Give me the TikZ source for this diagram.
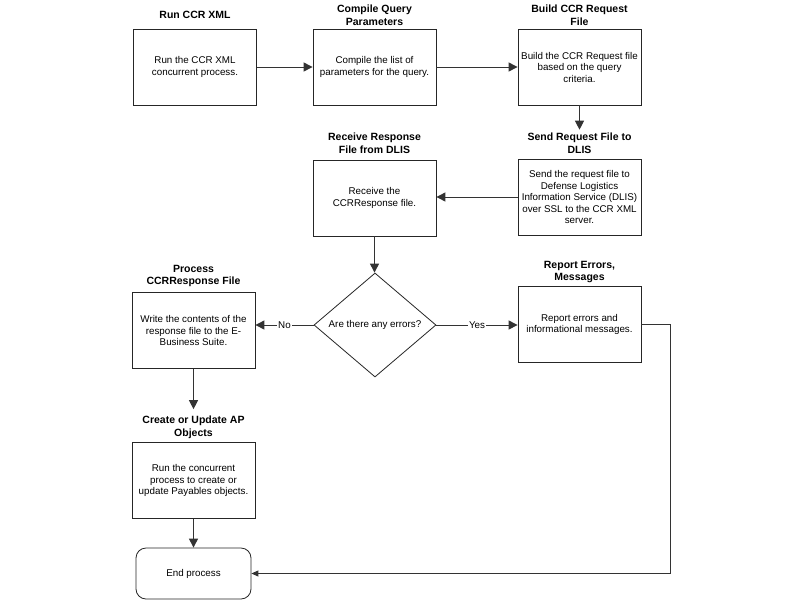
\documentclass[tikz,border=0pt]{standalone}
\usepackage{fontspec}
\setmainfont{Liberation Sans}
\usetikzlibrary{arrows.meta,shapes.geometric}
\newcommand{\myBody}{\fontsize{9.8}{11.5}\selectfont}
\newcommand{\myTitle}{\fontsize{10.5}{12.5}\selectfont\bfseries}
\begin{document}
\begin{tikzpicture}[x=1pt,y=-1pt,
  box/.style={draw=black!85,line width=0.8pt,rectangle,inner sep=0pt,align=center,font=\myBody,minimum width=123pt,minimum height=76pt},
  ttl/.style={inner sep=2pt,align=center,font=\myTitle},
  conn/.style={draw=black!80,line width=1pt,-{Triangle[length=9pt,width=9pt]}},
  lbl/.style={fill=white,inner sep=1pt,font=\myBody}]
\fill[white] (0,0) rectangle (800,600);
\useasboundingbox (0,0) rectangle (800,600);

% boxes
\node[box] (B1) at (195,67) {Run the CCR XML\\concurrent process.};
\node[box] (B2) at (374.5,67) {Compile the list of\\parameters for the query.};
\node[box] (B3) at (579.5,67) {Build the CCR Request file\\based on the query\\criteria.};
\node[box] (B4) at (579.5,197) {Send the request file to\\Defense Logistics\\Information Service (DLIS)\\over SSL to the CCR XML\\server.};
\node[box] (B5) at (374.5,198) {Receive the\\CCRResponse file.};
\node[draw=black!85,line width=0.8pt,diamond,inner sep=0pt,shape aspect=1.17,minimum width=122pt,minimum height=104pt,font=\myBody] (D) at (375,325) {Are there any errors?};
\node[box] (B6) at (193.5,330.5) {Write the contents of the\\response file to the E-\\Business Suite.};
\node[box] (B7) at (579.5,324.5) {Report errors and\\informational messages.};
\node[box] (B8) at (193.5,480.5) {Run the concurrent\\process to create or\\update Payables objects.};
\node[box,rounded corners=10pt,minimum width=115pt,minimum height=51pt] (E) at (193.5,573.5) {End process};

% titles
\node[ttl] (t1) at (195,15) {Run CCR XML};
\node[ttl] (t2) at (374.5,15) {Compile Query\\Parameters};
\node[ttl] (t3) at (579.5,15) {Build CCR Request\\File};
\node[ttl] (t4) at (579.5,143) {Send Request File to\\DLIS};
\node[ttl] (t5) at (374.5,143) {Receive Response\\File from DLIS};
\node[ttl] (t6) at (193.5,276) {Process\\CCRResponse File};
\node[ttl] (t7) at (579.5,272) {Report Errors,\\Messages};
\node[ttl] (t8) at (193.5,427.5) {Create or Update AP\\Objects};

% connectors
\draw[conn] (B1.east) -- (B2.west);
\draw[conn] (B2.east) -- (B3.west);
\draw[conn,shorten >=1pt] (B3.south) -- (t4.north);
\draw[conn] (B4.west) -- (B4.west -| B5.east);
\draw[conn] (B5.south) -- (B5.south |- D.north);
\draw[conn] (D.west) -- node[lbl]{No} (D.west -| B6.east);
\draw[conn] (D.east) -- node[lbl]{Yes} (D.east -| B7.west);
\draw[conn,shorten >=5pt] (B6.south) -- (t8.north);
\draw[conn] (B8.south) -- (E.north);
\coordinate (rc) at (670,324.5);
\draw[draw=black!80,line width=1pt,-{Triangle[length=7pt,width=6pt]}] (B7.east) -- (B7.east -| rc) |- (E.east);
\end{tikzpicture}
\end{document}
